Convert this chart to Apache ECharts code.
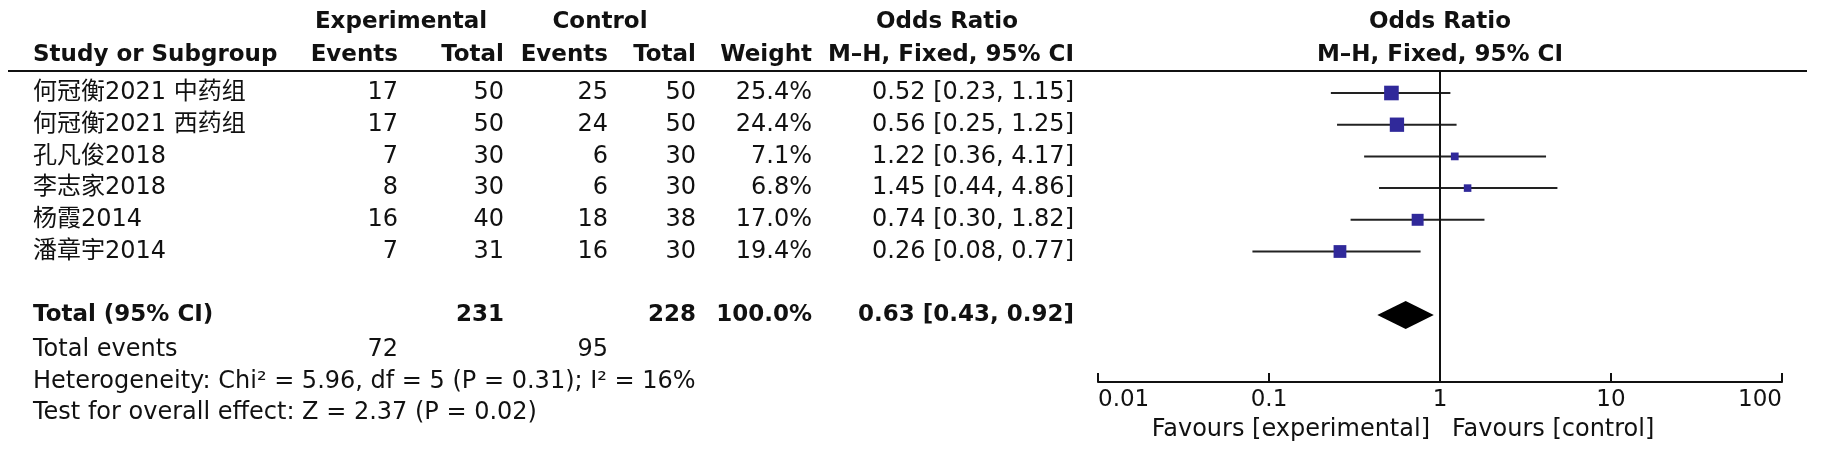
<!DOCTYPE html>
<html>
<head>
<meta charset="utf-8">
<script src="https://cdn.jsdelivr.net/npm/echarts@6/dist/echarts.min.js"></script>
<style>
  html, body { margin: 0; padding: 0; background: #fff; }
  #forest { width: 1827px; height: 453px; }
</style>
</head>
<body>
<div id="forest"></div>
<script>
// study rows
const studies = ['何冠衡2021 中药组', '何冠衡2021 西药组', '孔凡俊2018', '李志家2018', '杨霞2014', '潘章宇2014']
const expEvents = [17, 17, 7, 8, 16, 7]
const expTotal = [50, 50, 30, 30, 40, 31]
const ctrlEvents = [25, 24, 6, 6, 18, 16]
const ctrlTotal = [50, 50, 30, 30, 38, 30]
const weights = [25.4, 24.4, 7.1, 6.8, 17.0, 19.4]
const oddsRatio = [0.52, 0.56, 1.22, 1.45, 0.74, 0.26]
const ciLow = [0.23, 0.25, 0.36, 0.44, 0.30, 0.08]
const ciHigh = [1.15, 1.25, 4.17, 4.86, 1.82, 0.77]

// pooled result
const totalExp = 231
const totalCtrl = 228
const totalExpEvents = 72
const totalCtrlEvents = 95
const totalWeight = 100.0
const totalOR = 0.63
const totalLow = 0.43
const totalHigh = 0.92
const heterogeneity = 'Heterogeneity: Chi² = 5.96, df = 5 (P = 0.31); I² = 16%'
const overallEffect = 'Test for overall effect: Z = 2.37 (P = 0.02)'

const tickLabels = ['0.01', '0.1', '1', '10', '100']

const FONT = "'DejaVu Sans', 'Noto Sans CJK SC', sans-serif"
const REG = '24px ' + FONT
const BOLD = 'bold 23px ' + FONT
const ROW_H = 31.7
const TOTAL_ROW = 7

// column anchors (layout)
const col = { study: 33, expE: 398, expT: 504, ctlE: 608, ctlT: 696, weight: 812, or: 1074 }

const fmtCI = (o, l, h) => o.toFixed(2) + ' [' + l.toFixed(2) + ', ' + h.toFixed(2) + ']'

// text cells: [x, row, text, align, bold]
const cells = []
const add = (x, row, text, align, bold) => cells.push([x, row, String(text), align, bold ? 1 : 0])

add(401, -2.25, 'Experimental', 'center', true)
add(600, -2.25, 'Control', 'center', true)
add(947, -2.25, 'Odds Ratio', 'center', true)
add(1440, -2.25, 'Odds Ratio', 'center', true)
add(col.study, -1.2, 'Study or Subgroup', 'left', true)
add(col.expE, -1.2, 'Events', 'right', true)
add(col.expT, -1.2, 'Total', 'right', true)
add(col.ctlE, -1.2, 'Events', 'right', true)
add(col.ctlT, -1.2, 'Total', 'right', true)
add(col.weight, -1.2, 'Weight', 'right', true)
add(col.or, -1.2, 'M–H, Fixed, 95% CI', 'right', true)
add(1440, -1.2, 'M–H, Fixed, 95% CI', 'center', true)

studies.forEach((s, i) => {
  add(col.study, i, s, 'left')
  add(col.expE, i, expEvents[i], 'right')
  add(col.expT, i, expTotal[i], 'right')
  add(col.ctlE, i, ctrlEvents[i], 'right')
  add(col.ctlT, i, ctrlTotal[i], 'right')
  add(col.weight, i, weights[i].toFixed(1) + '%', 'right')
  add(col.or, i, fmtCI(oddsRatio[i], ciLow[i], ciHigh[i]), 'right')
})

add(col.study, TOTAL_ROW, 'Total (95% CI)', 'left', true)
add(col.expT, TOTAL_ROW, totalExp, 'right', true)
add(col.ctlT, TOTAL_ROW, totalCtrl, 'right', true)
add(col.weight, TOTAL_ROW, totalWeight.toFixed(1) + '%', 'right', true)
add(col.or, TOTAL_ROW, fmtCI(totalOR, totalLow, totalHigh), 'right', true)
add(col.study, 8.1, 'Total events', 'left')
add(col.expE, 8.1, totalExpEvents, 'right')
add(col.ctlE, 8.1, totalCtrlEvents, 'right')
add(col.study, 9.1, heterogeneity, 'left')
add(col.study, 10.1, overallEffect, 'left')
add(1430, 10.63, 'Favours [experimental]', 'right')
add(1452, 10.63, 'Favours [control]', 'left')

const studyData = studies.map((s, i) => [ciLow[i], i, ciHigh[i], oddsRatio[i], weights[i]])

const chart = echarts.init(document.getElementById('forest'))

// plot grid: top at header rule, bottom at the OR axis
const plotTop = 71
const plotBottom = 382
const yMin = -22 / ROW_H
const yMax = yMin + (plotBottom - plotTop) / ROW_H

chart.setOption({
  animation: false,
  backgroundColor: '#fff',
  grid: [
    { left: 1098, right: 45, top: plotTop, bottom: 453 - plotBottom },
    { left: 0, right: 0, top: 0, bottom: 0 }
  ],
  xAxis: [
    {
      gridIndex: 0,
      type: 'log',
      logBase: 10,
      min: 0.01,
      max: 100,
      splitLine: { show: false },
      axisLine: { onZero: false, lineStyle: { color: '#111', width: 2 } },
      axisTick: { inside: true, length: 9, lineStyle: { color: '#111', width: 2 } },
      axisLabel: {
        margin: 7,
        color: '#111',
        fontFamily: FONT,
        fontSize: 23,
        alignMinLabel: 'left',
        alignMaxLabel: 'right',
        formatter: v => tickLabels[Math.round(Math.log10(v)) + 2]
      }
    },
    { gridIndex: 1, type: 'value', min: 0, max: 1827, show: false }
  ],
  yAxis: [
    { gridIndex: 0, type: 'value', inverse: true, min: yMin, max: yMax, show: false },
    {
      gridIndex: 1, type: 'value', inverse: true,
      min: yMin - plotTop / ROW_H,
      max: yMin + (453 - plotTop) / ROW_H,
      show: false
    }
  ],
  graphic: [
    {
      type: 'line',
      shape: { x1: 8, y1: plotTop, x2: 1807, y2: plotTop },
      style: { stroke: '#111', lineWidth: 2 }
    }
  ],
  series: [
    {
      type: 'custom',
      name: 'studies',
      xAxisIndex: 0,
      yAxisIndex: 0,
      data: studyData,
      renderItem(params, api) {
        const lo = api.coord([api.value(0), api.value(1)])
        const hi = api.coord([api.value(2), api.value(1)])
        const mid = api.coord([api.value(3), api.value(1)])
        const s = Math.sqrt(api.value(4)) * 2.9
        return {
          type: 'group',
          children: [
            {
              type: 'line',
              shape: { x1: lo[0], y1: lo[1], x2: hi[0], y2: hi[1] },
              style: { stroke: '#222', lineWidth: 2 }
            },
            {
              type: 'rect',
              shape: { x: mid[0] - s / 2, y: mid[1] - s / 2, width: s, height: s },
              style: { fill: '#30299a' }
            }
          ]
        }
      },
      markLine: {
        silent: true,
        symbol: 'none',
        label: { show: false },
        lineStyle: { color: '#111', width: 2, type: 'solid' },
        data: [{ xAxis: 1 }]
      }
    },
    {
      type: 'custom',
      name: 'pooled',
      xAxisIndex: 0,
      yAxisIndex: 0,
      data: [[totalLow, TOTAL_ROW, totalHigh, totalOR]],
      renderItem(params, api) {
        const lo = api.coord([api.value(0), api.value(1)])
        const hi = api.coord([api.value(2), api.value(1)])
        const mid = api.coord([api.value(3), api.value(1)])
        const h = 14
        return {
          type: 'polygon',
          shape: { points: [[lo[0], lo[1]], [mid[0], mid[1] - h], [hi[0], hi[1]], [mid[0], mid[1] + h]] },
          style: { fill: '#000' }
        }
      }
    },
    {
      type: 'custom',
      name: 'table',
      xAxisIndex: 1,
      yAxisIndex: 1,
      data: cells,
      renderItem(params, api) {
        const c = cells[params.dataIndex]
        const p = api.coord([c[0], c[1]])
        return {
          type: 'text',
          x: p[0],
          y: p[1],
          style: {
            text: c[2],
            align: c[3],
            verticalAlign: 'middle',
            fill: '#111',
            font: c[4] ? BOLD : REG
          }
        }
      }
    }
  ]
})
</script>
</body>
</html>
